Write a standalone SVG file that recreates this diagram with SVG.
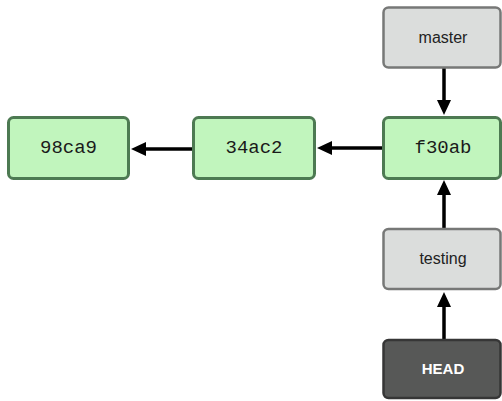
<svg xmlns="http://www.w3.org/2000/svg" width="502" height="401" viewBox="0 0 502 401">
  <style>
    .commit rect { fill: #c1f5bd; stroke: #4d7a52; stroke-width: 3; }
    .branch rect { fill: #dbdddc; stroke: #777877; stroke-width: 2.5; }
    .head rect { fill: #575857; stroke: #363636; stroke-width: 2.5; }
    .hash { font-family: "Liberation Mono", "DejaVu Sans Mono", monospace; font-size: 19px; fill: #1a1a1a; text-anchor: middle; dominant-baseline: central; }
    .lbl { font-family: "Liberation Sans", Arial, sans-serif; font-size: 16px; fill: #222; text-anchor: middle; dominant-baseline: central; }
    .hlbl { font-family: "Liberation Sans", Arial, sans-serif; font-size: 15px; font-weight: bold; fill: #ffffff; text-anchor: middle; dominant-baseline: central; }
    .conn line { stroke: #000; stroke-width: 3.5; marker-end: url(#arrow); }
  </style>
  <defs>
    <marker id="arrow" markerUnits="userSpaceOnUse" markerWidth="15" markerHeight="14" refX="4" refY="7" orient="auto" overflow="visible">
      <path d="M0,0 L15,7 L0,14 z" fill="#000"/>
    </marker>
  </defs>
  <rect width="502" height="401" fill="#ffffff"/>
  <g id="connectors" class="conn">
    <line x1="193" y1="149" x2="142" y2="149"/>
    <line x1="383" y1="148" x2="328" y2="148"/>
    <line x1="444" y1="68" x2="444" y2="104"/>
    <line x1="444" y1="229" x2="444" y2="191"/>
    <line x1="444" y1="340" x2="444" y2="303"/>
  </g>
  <g id="c98ca9" class="commit">
    <rect x="8.5" y="117.5" width="120" height="61" rx="5"/>
    <text class="hash" x="68.5" y="148">98ca9</text>
  </g>
  <g id="c34ac2" class="commit">
    <rect x="193.5" y="117.5" width="121" height="61" rx="5"/>
    <text class="hash" x="254" y="148">34ac2</text>
  </g>
  <g id="cf30ab" class="commit">
    <rect x="383.5" y="117.5" width="117" height="61" rx="5"/>
    <text class="hash" x="443" y="148">f30ab</text>
  </g>
  <g id="master" class="branch">
    <rect x="383.5" y="7.5" width="117" height="60" rx="5"/>
    <text class="lbl" x="443" y="37">master</text>
  </g>
  <g id="testing" class="branch">
    <rect x="383.5" y="229" width="117" height="60" rx="5"/>
    <text class="lbl" x="443" y="258">testing</text>
  </g>
  <g id="HEAD" class="head">
    <rect x="383.5" y="340" width="117" height="58" rx="5"/>
    <text class="hlbl" x="443" y="368">HEAD</text>
  </g>
</svg>
